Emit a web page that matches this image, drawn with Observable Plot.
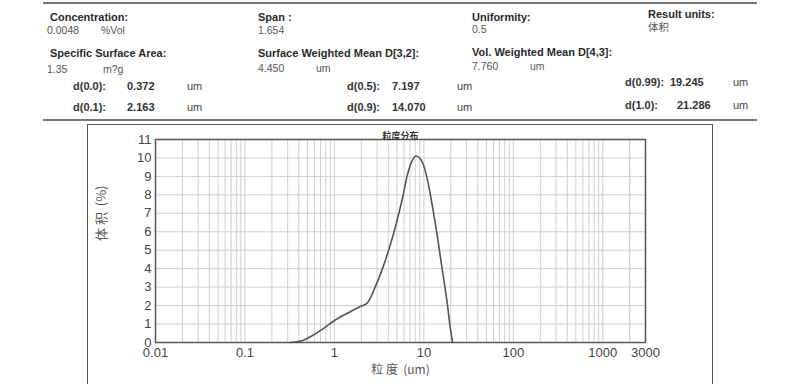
<!DOCTYPE html>
<html><head><meta charset="utf-8">
<script src="https://cdn.jsdelivr.net/npm/d3@7"></script>
<script src="https://cdn.jsdelivr.net/npm/@observablehq/plot@0.6"></script>
<style>
body{margin:0;background:#fff;}
#page{position:relative;width:785px;height:384px;overflow:hidden;font-family:"Liberation Sans",Arial,sans-serif;}
.t{position:absolute;white-space:nowrap;line-height:1;}
.b{font-weight:bold;font-size:11px;color:#2a2a2a;}
.v{font-size:10.5px;color:#555;}
.d{font-weight:bold;font-size:11px;color:#333;}
.u{font-size:11px;color:#444;}
.cjk{font-family:"Noto Sans CJK SC",sans-serif;}
.hl{position:absolute;height:0;border-top:2px solid #777;}
#box{position:absolute;left:87px;top:124px;width:624px;height:300px;border:1.5px solid #555;}
#chart{position:absolute;left:0;top:0;}
</style>
</head><body>
<div id="page"></div>
<script>
// ---- chart data ----
const sizes  = [0.32, 0.45, 0.57, 0.75, 1.0, 1.47, 2.0, 2.34, 2.9, 3.44, 4.08, 4.85, 5.74, 6.53, 7.41, 8.22, 9.58, 10.9, 12.4, 14.1, 16.0, 18.2, 19.8, 21.0];
const volume = [0, 0.12, 0.38, 0.75, 1.19, 1.64, 1.98, 2.15, 3.08, 3.99, 5.07, 6.34, 7.79, 9.06, 9.87, 10.11, 9.78, 8.88, 7.43, 5.80, 3.99, 2.17, 0.72, 0];
const xTickValues = [0.01, 0.1, 1, 10, 100, 1000, 3000];
const xTickLabels = ["0.01", "0.1", "1", "10", "100", "1000", "3000"];
const yTickValues = [0,1,2,3,4,5,6,7,8,9,10,11];
const gridMultipliers = [1,2,3,4,5,6,7,8,9];
const gridDecades = [0.01, 0.1, 1, 10, 100, 1000];
const chartTitle = "粒度分布";
const xLabel = "粒 度  (um)";
const yLabel = "体 积  (%)";

// ---- header text ----
const headerLabels = ["Concentration:", "Span :", "Uniformity:", "Result units:", "Specific Surface Area:", "Surface Weighted Mean D[3,2]:", "Vol. Weighted Mean D[4,3]:"];
const headerValues = ["0.0048", "%Vol", "1.654", "0.5", "体积", "1.35", "m?g", "4.450", "um", "7.760", "um"];
const dNames  = ["d(0.0):", "d(0.1):", "d(0.5):", "d(0.9):", "d(0.99):", "d(1.0):"];
const dValues = ["0.372", "2.163", "7.197", "14.070", "19.245", "21.286"];
const dUnit = "um";

// layout (positions only: x, baseline)
const labelPos = [[50,21],[258,21],[472,21],[648,18],[50,57],[258,57],[472,56]];
const valuePos = [[47,34],[101,34],[258,34],[472,33],[648,31],[47,73],[103,73],[258,72],[316,72],[472,70],[530,70]];
const dPos = [[73,127,187,90],[73,127,187,111],[347,392,457,90],[347,392,457,111],[625,670,733,86],[625,677,733,109]];

const page = document.getElementById("page");

const xData = sizes.map((s,i)=>({size:s, vol:volume[i]}));
const gridX = [];
gridDecades.forEach(d=>gridMultipliers.forEach(m=>{const v=d*m; if(v<=3000) gridX.push(v);}));
gridX.push(2000,3000);
const xTicks = xTickValues.map((v,i)=>({v, label:xTickLabels[i]}));

const chart = Plot.plot({
  width:785, height:384,
  marginLeft:155, marginRight:140, marginTop:139, marginBottom:42,
  style:{fontFamily:"'Liberation Sans', Arial, sans-serif", fontSize:"13px", color:"#444", background:"transparent"},
  x:{type:"log", domain:[0.01,3000], axis:null},
  y:{domain:[0,11]},
  marks:[
    Plot.gridX(gridX,{stroke:"#cfcfcf", strokeOpacity:1, strokeWidth:1}),
    Plot.gridY(yTickValues,{stroke:"#cfcfcf", strokeOpacity:1, strokeWidth:1}),
    Plot.frame({stroke:"#555", strokeWidth:1.5}),
    Plot.line(xData,{x:"size", y:"vol", stroke:"#555", strokeWidth:1.6, curve:"monotone-x"}),
    Plot.text(xTicks,{x:"v", text:"label", frameAnchor:"bottom", lineAnchor:"top", dy:5, fontSize:13, fill:"#444"}),
    Plot.axisY(yTickValues,{tickSize:0, tickPadding:4, label:null, fontSize:13, fill:"#444"}),
    Plot.text([chartTitle],{frameAnchor:"top", dy:-7, fontSize:9, fontWeight:"bold", fill:"#333", fontFamily:"'Noto Sans CJK SC', sans-serif"}),
    Plot.text([xLabel],{frameAnchor:"bottom", dy:31, fontSize:12, fill:"#555", fontFamily:"'Noto Sans CJK SC', sans-serif"}),
    Plot.text([yLabel],{frameAnchor:"left", dx:-54, rotate:-90, fontSize:13, fill:"#555", fontFamily:"'Noto Sans CJK SC', sans-serif"})
  ]
});
chart.id = "chart";
page.appendChild(chart);

function addText(txt, x, baseline, cls, fs){
  const el = document.createElement("div");
  el.className = "t " + cls + (/[\u4e00-\u9fff]/.test(txt) ? " cjk" : "");
  el.textContent = txt;
  el.style.left = x + "px";
  el.style.top = (baseline - fs*0.85) + "px";
  page.appendChild(el);
}
headerLabels.forEach((t,i)=>addText(t, labelPos[i][0], labelPos[i][1], "b", 11));
headerValues.forEach((t,i)=>addText(t, valuePos[i][0], valuePos[i][1], "v", 10.5));
dNames.forEach((t,i)=>{
  const p = dPos[i];
  addText(t, p[0], p[3], "d", 11);
  addText(dValues[i], p[1], p[3], "d", 11);
  addText(dUnit, p[2], p[3], "u", 11);
});

function hline(x1,x2,y){
  const el=document.createElement("div");
  el.className="hl";
  el.style.left=x1+"px"; el.style.width=(x2-x1)+"px"; el.style.top=y+"px";
  page.appendChild(el);
}
hline(43,757,2);
hline(43,757,119);
const box=document.createElement("div"); box.id="box"; page.appendChild(box);
</script>
</body></html>
